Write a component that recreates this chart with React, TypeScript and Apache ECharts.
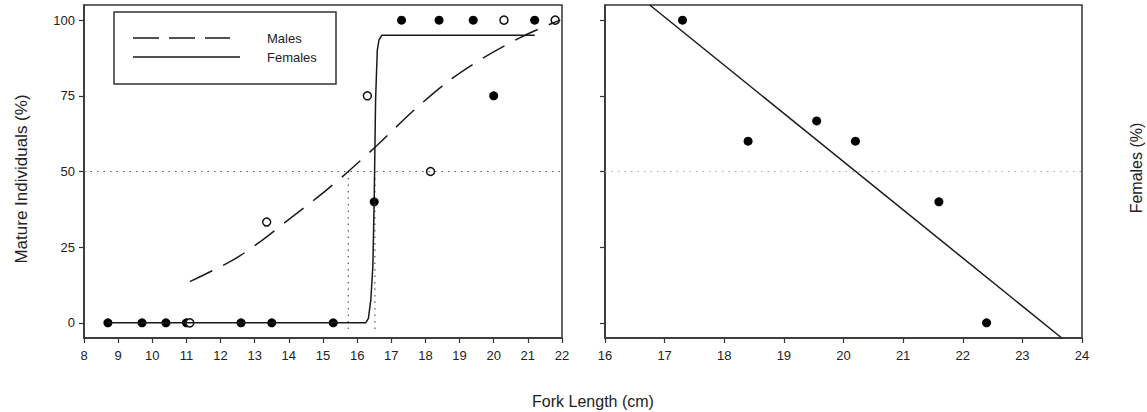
import React, { useEffect, useRef } from "react";
import * as echarts from "echarts";

// ---- Left panel: maturity data ----
const femalesX = [8.7, 9.7, 10.4, 11.0, 12.6, 13.5, 15.3, 16.5, 17.3, 18.4, 19.4, 20.0, 21.2];
const femalesY = [0, 0, 0, 0, 0, 0, 0, 40, 100, 100, 100, 75, 100];
const malesX = [11.1, 13.35, 16.3, 18.15, 20.3, 21.8];
const malesY = [0, 33.3, 75, 50, 100, 100];

// fitted curves
const femaleCurveX = [8.7, 16.25, 16.33, 16.4, 16.46, 16.5, 16.54, 16.59, 16.64, 16.72, 21.2];
const femaleCurveY = [0, 0, 1.5, 7.6, 18.6, 41, 73.6, 90, 93.5, 95, 95];
const maleCurveX = [11.1, 12.37, 13.16, 14.04, 15.01, 15.74, 16.57, 17.67, 18.69, 19.72, 20.79, 21.7, 21.95];
const maleCurveY = [13.6, 20.8, 26.8, 34.5, 43, 50, 58.5, 70.3, 80, 87.7, 94.3, 98.9, 100];

// L50 reference lines
const l50Males = 15.74;
const l50Females = 16.52;
const refLevel = 50;

// ---- Right panel: sex ratio ----
const ratioX = [17.3, 18.4, 19.55, 20.2, 21.6, 22.4];
const ratioY = [100, 60, 66.7, 60, 40, 0];
const ratioLineX = [16.75, 23.66];
const ratioLineY = [105, -5];

const yTicks = [0, 25, 50, 75, 100];

const FONT = "'Liberation Sans', Arial, sans-serif";
const AX = "#333";

const zip = (xs: number[], ys: number[]) => xs.map((x, i) => [x, ys[i]]);

export default function App() {
  const ref = useRef<HTMLDivElement>(null);
  useEffect(() => {
    if (!ref.current) return;
    const chart = echarts.init(ref.current, null, { renderer: "svg" });

    const xAxisBase = (gridIndex: number, min: number, max: number) => ({
      type: "value",
      gridIndex,
      min,
      max,
      interval: 1,
      axisLine: { show: true, onZero: false, lineStyle: { color: AX, width: 1.5 } },
      axisTick: { show: true, inside: false, length: 5, lineStyle: { color: AX, width: 1.2 } },
      axisLabel: { fontSize: 13, color: "#222", margin: 11, fontFamily: FONT },
      splitLine: { show: false },
    });
    const yAxisBase = (gridIndex: number, showLabels: boolean) => ({
      type: "value",
      gridIndex,
      min: -5,
      max: 105,
      axisLine: { show: true, onZero: false, lineStyle: { color: AX, width: 1.5 } },
      axisTick: {
        show: true,
        inside: false,
        length: 5,
        customValues: yTicks,
        lineStyle: { color: AX, width: 1.2 },
      },
      axisLabel: {
        show: showLabels,
        customValues: yTicks,
        fontSize: 13,
        color: "#222",
        margin: 9,
        fontFamily: FONT,
      },
      splitLine: { show: false },
    });

    const dotted = (color: string) => ({ color, width: 1.2, type: [1.5, 5] as number[] });

    chart.setOption({
      animation: false,
      backgroundColor: "#fff",
      grid: [
        { left: 84, top: 5, width: 478, height: 333, show: true, borderColor: AX, borderWidth: 1.5, backgroundColor: "transparent" },
        { left: 605, top: 5, width: 477, height: 333, show: true, borderColor: AX, borderWidth: 1.5, backgroundColor: "transparent" },
      ],
      xAxis: [xAxisBase(0, 8, 22), xAxisBase(1, 16, 24)],
      yAxis: [yAxisBase(0, true), yAxisBase(1, false)],
      series: [
        {
          type: "line",
          xAxisIndex: 0,
          yAxisIndex: 0,
          data: [[8, refLevel], [22, refLevel]],
          showSymbol: false,
          lineStyle: dotted("#555"),
          silent: true,
        },
        {
          type: "line",
          xAxisIndex: 0,
          yAxisIndex: 0,
          data: [[l50Males, refLevel], [l50Males, -3]],
          showSymbol: false,
          lineStyle: dotted("#555"),
          silent: true,
        },
        {
          type: "line",
          xAxisIndex: 0,
          yAxisIndex: 0,
          data: [[l50Females, refLevel], [l50Females, -3]],
          showSymbol: false,
          lineStyle: dotted("#555"),
          silent: true,
        },
        {
          name: "Females",
          type: "line",
          xAxisIndex: 0,
          yAxisIndex: 0,
          data: zip(femaleCurveX, femaleCurveY),
          showSymbol: false,
          lineStyle: { color: "#1a1a1a", width: 1.5 },
        },
        {
          name: "Males",
          type: "line",
          xAxisIndex: 0,
          yAxisIndex: 0,
          data: zip(maleCurveX, maleCurveY),
          showSymbol: false,
          smooth: 0.3,
          lineStyle: { color: "#1a1a1a", width: 1.5, type: [25, 12] },
        },
        {
          type: "scatter",
          xAxisIndex: 0,
          yAxisIndex: 0,
          data: zip(femalesX, femalesY),
          symbol: "circle",
          symbolSize: 9,
          itemStyle: { color: "#000", opacity: 1 },
        },
        {
          type: "scatter",
          xAxisIndex: 0,
          yAxisIndex: 0,
          data: zip(malesX, malesY),
          symbol: "circle",
          symbolSize: 8,
          itemStyle: { color: "#fff", borderColor: "#111", borderWidth: 1.5, opacity: 1 },
        },
        // right panel
        {
          type: "line",
          xAxisIndex: 1,
          yAxisIndex: 1,
          data: [[16, refLevel], [24, refLevel]],
          showSymbol: false,
          lineStyle: dotted("#aaa"),
          silent: true,
        },
        {
          type: "line",
          xAxisIndex: 1,
          yAxisIndex: 1,
          data: zip(ratioLineX, ratioLineY),
          showSymbol: false,
          lineStyle: { color: "#1a1a1a", width: 1.5 },
        },
        {
          type: "scatter",
          xAxisIndex: 1,
          yAxisIndex: 1,
          data: zip(ratioX, ratioY),
          symbol: "circle",
          symbolSize: 9,
          itemStyle: { color: "#000", opacity: 1 },
        },
      ],
      graphic: [
        // legend box
        {
          type: "rect",
          shape: { x: 114, y: 12, width: 222, height: 72 },
          style: { fill: "#fff", stroke: AX, lineWidth: 1.5 },
          z: 100,
        },
        {
          type: "line",
          shape: { x1: 133, y1: 38, x2: 230, y2: 38 },
          style: { stroke: "#1a1a1a", lineWidth: 1.5, lineDash: [26, 10] },
          z: 101,
        },
        {
          type: "line",
          shape: { x1: 133, y1: 57, x2: 240, y2: 57 },
          style: { stroke: "#1a1a1a", lineWidth: 1.5 },
          z: 101,
        },
        {
          type: "text",
          x: 267,
          y: 38,
          style: { text: "Males", fontSize: 13, fontFamily: FONT, fill: "#222", textAlign: "left", textVerticalAlign: "middle" },
          z: 101,
        },
        {
          type: "text",
          x: 267,
          y: 57,
          style: { text: "Females", fontSize: 13, fontFamily: FONT, fill: "#222", textAlign: "left", textVerticalAlign: "middle" },
          z: 101,
        },
        // axis titles
        {
          type: "text",
          x: 21,
          y: 179,
          rotation: Math.PI / 2,
          style: { text: "Mature Individuals (%)", fontSize: 17, fontFamily: FONT, fill: "#222", textAlign: "center", textVerticalAlign: "middle" },
        },
        {
          type: "text",
          x: 1136,
          y: 168,
          rotation: Math.PI / 2,
          style: { text: "Females (%)", fontSize: 16, fontFamily: FONT, fill: "#222", textAlign: "center", textVerticalAlign: "middle" },
        },
        {
          type: "text",
          x: 593,
          y: 401,
          style: { text: "Fork Length (cm)", fontSize: 16, fontFamily: FONT, fill: "#222", textAlign: "center", textVerticalAlign: "middle" },
        },
      ],
    });
    return () => chart.dispose();
  }, []);
  return (
    <div
      ref={ref}
      style={{ position: "fixed", left: 0, top: 0, width: 1147, height: 412, background: "#fff" }}
    />
  );
}
